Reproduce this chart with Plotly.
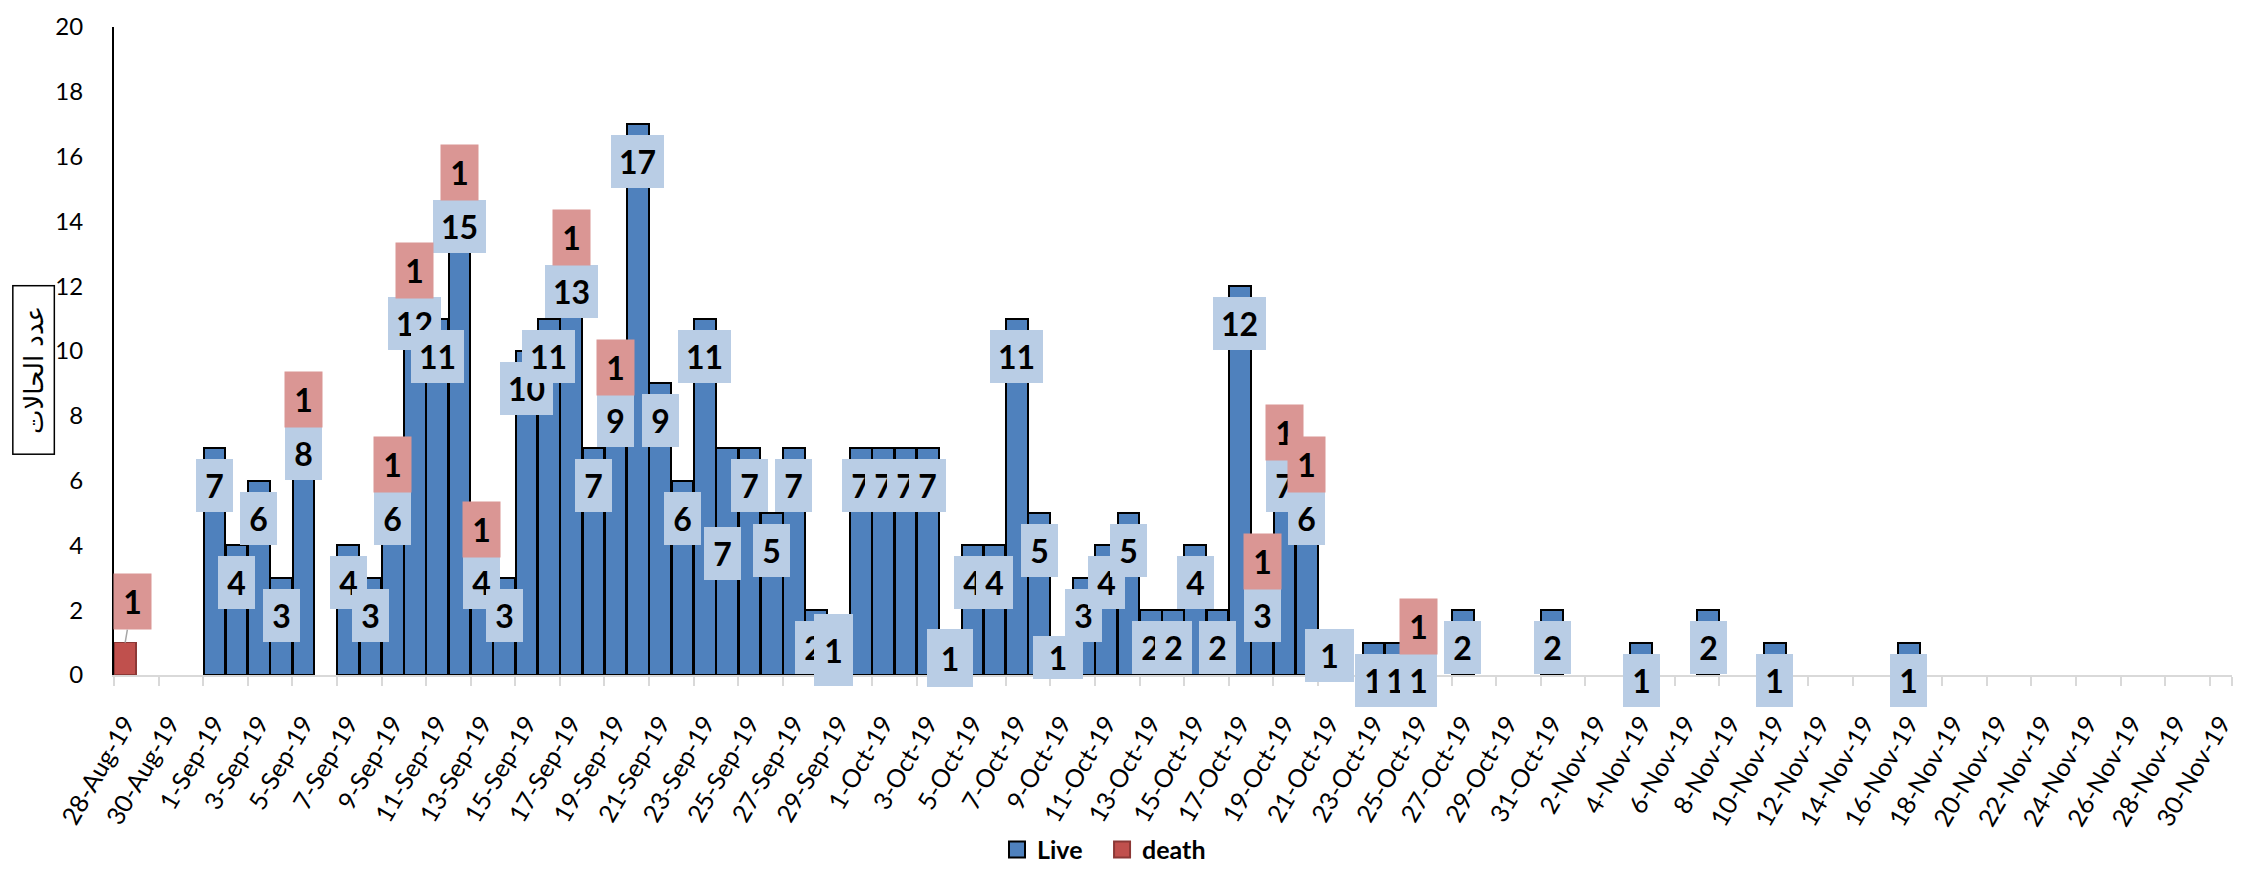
import plotly.graph_objects as go
import pandas as pd

# ---------------- data ----------------
dates = [d.strftime("%-d-%b-%y") for d in pd.date_range("2019-08-28", "2019-11-30", freq="D")]

live = [0, 0, 0, 0,                                             # 28-31 Aug
        7, 4, 6, 3, 8, 0, 4, 3, 6, 12, 11, 15, 4, 3, 10, 11,    # 1-16 Sep
        13, 7, 9, 17, 9, 6, 11, 7, 7, 5, 7, 2, 1, 7,            # 17-30 Sep
        7, 7, 7, 1, 4, 4, 11, 5, 1, 3, 4, 5, 2, 2, 4, 2,        # 1-16 Oct
        12, 3, 7, 6, 1, 0, 1, 1, 1, 0, 2, 0, 0, 0, 2,           # 17-31 Oct
        0, 0, 0, 1, 0, 0, 2, 0, 0, 1, 0, 0, 0, 0, 0, 1,         # 1-16 Nov
        0, 0, 0, 0, 0, 0, 0, 0, 0, 0, 0, 0, 0, 0]               # 17-30 Nov

death_dates = ["28-Aug-19", "5-Sep-19", "9-Sep-19", "10-Sep-19", "12-Sep-19", "13-Sep-19",
               "17-Sep-19", "19-Sep-19", "18-Oct-19", "19-Oct-19", "20-Oct-19", "25-Oct-19"]
death_counts = [1, 1, 1, 1, 1, 1, 1, 1, 1, 1, 1, 1]
death = [0] * len(dates)
for d, c in zip(death_dates, death_counts):
    death[dates.index(d)] = c

tick_labels = dates[::2]
y_title = "عدد الحالات"
series_names = ["Live", "death"]

# ---------------- style ----------------
BLUE = "#4F81BD"
RED = "#C0504D"
LBL_BLUE = "#B9CDE5"
LBL_RED = "#DA9694"
FONT = "Lato, Carlito, Calibri, sans-serif"

# manual label placement tweaks (position / size only)
live_label_tweak = {
    "24-Sep-19": dict(dx=-5, yc=3.75),
    "28-Sep-19": dict(dx=-3),
    "29-Sep-19": dict(dx=-5, yc=0.77, w=39, h=72),
    "4-Oct-19": dict(yc=0.52, w=46, h=58),
    "9-Oct-19": dict(dx=-4, yc=0.54, w=50, h=43),
    "21-Oct-19": dict(yc=0.6, w=49, h=53),
}

def nz(vals):
    return [v if v else None for v in vals]

fig = go.Figure()
fig.add_trace(go.Bar(x=dates, y=nz(live), name=series_names[0],
                     marker=dict(color=BLUE, line=dict(color="black", width=2)), showlegend=False))
fig.add_trace(go.Bar(x=dates, y=nz(death), name=series_names[1],
                     marker=dict(color=RED, line=dict(color="#8C3836", width=1.5)), showlegend=False))
# legend entries (one legend box per entry for exact spacing)
fig.add_trace(go.Scatter(x=[None], y=[None], mode="markers", name=series_names[0], legend="legend",
                         marker=dict(symbol="square", size=16, color=BLUE, line=dict(color="black", width=2))))
fig.add_trace(go.Scatter(x=[None], y=[None], mode="markers", name=series_names[1], legend="legend2",
                         marker=dict(symbol="square", size=16, color=RED, line=dict(color="#8C3836", width=2))))

annotations = []
lbl_font = dict(family=FONT, size=32, color="black", weight="bold")
for d, v in zip(dates, live):
    if v <= 0:
        continue
    t = live_label_tweak.get(d, {})
    w = t.get("w", 37 if v < 10 else 53)
    h = t.get("h", 53)
    common = dict(x=d, xref="x", yref="y", text=str(v), showarrow=False, xanchor="center",
                  xshift=t.get("dx", 0), width=w, height=h, bgcolor=LBL_BLUE, borderpad=0,
                  borderwidth=0, font=lbl_font)
    if "yc" in t:
        annotations.append(dict(common, y=t["yc"], yanchor="middle"))
    else:
        annotations.append(dict(common, y=v, yanchor="top", yshift=-11))
for d, v, c in zip(dates, live, death):
    if c <= 0:
        continue
    if v == 0:
        annotations.append(dict(x=d, y=v + c, xref="x", yref="y", text=str(c), showarrow=True,
                                arrowhead=0, arrowwidth=1.5, arrowcolor="#A6A6A6", ax=7, ay=-41, standoff=0,
                                width=37, height=55, bgcolor=LBL_RED, borderpad=0, font=lbl_font))
    else:
        annotations.append(dict(x=d, y=v + c / 2, xref="x", yref="y", text=str(c), showarrow=False,
                                xanchor="center", yanchor="middle",
                                width=37, height=55, bgcolor=LBL_RED, borderpad=0, font=lbl_font))

# y axis title in a box
annotations.append(dict(x=-0.038, y=0.47, xref="paper", yref="paper", text=y_title, showarrow=False,
                        textangle=-90, xanchor="center", yanchor="middle", width=165, height=38,
                        bordercolor="black", borderwidth=1.5, borderpad=1,
                        font=dict(family="DejaVu Sans", size=26, color="black")))

legend_style = dict(orientation="h", xanchor="left", yref="container", y=0.049, yanchor="top",
                    font=dict(family=FONT, size=25, color="black", weight="bold"), bgcolor="rgba(0,0,0,0)")

# page body has an 8px margin: figure is sized/placed so the plot lands where the reference has it
fig.update_layout(
    template="none",
    width=2233, height=861, autosize=False,
    margin=dict(l=106, r=9, t=19, b=194),
    paper_bgcolor="white", plot_bgcolor="white",
    barmode="stack", bargap=0.03,
    font=dict(family=FONT, color="black"),
    annotations=annotations,
    legend=dict(legend_style, x=0.4169),
    legend2=dict(legend_style, x=0.4665),
    showlegend=True,
)
fig.update_xaxes(type="category", categoryorder="array", categoryarray=dates, range=[-0.5, len(dates) - 0.5],
                 tickmode="array", tickvals=tick_labels, ticktext=tick_labels, tickangle=-60,
                 tickfont=dict(family=FONT, size=25, color="black"), ticklabelstandoff=22,
                 showline=True, linecolor="#D9D9D9", linewidth=2, ticks="outside", ticklen=9,
                 tickcolor="#D9D9D9", tickwidth=2, tickson="boundaries", showgrid=False, zeroline=False,
                 automargin=False)
fig.update_yaxes(range=[0, 20], dtick=2, tick0=0, showline=True, linecolor="black", linewidth=2,
                 ticks="", showgrid=False, zeroline=False, tickfont=dict(family=FONT, size=24, color="black"),
                 ticklabelstandoff=24, ticklabeloverflow="allow", automargin=False)

fig.write_html("out.html")
